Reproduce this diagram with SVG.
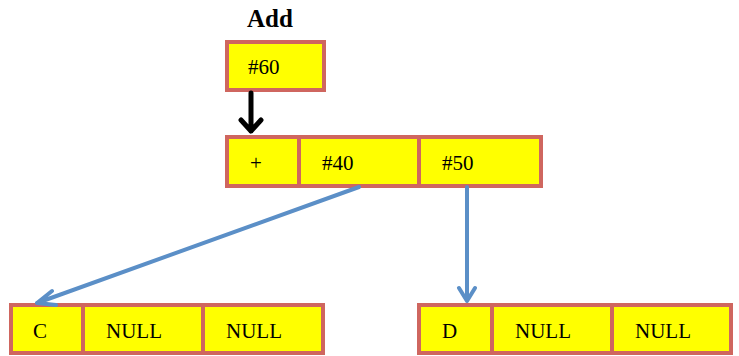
<svg xmlns="http://www.w3.org/2000/svg" width="739" height="356" viewBox="0 0 739 356">
  <style>
    .cell { fill: #ffff00; stroke: #cf665f; stroke-width: 4; }
    .lbl { font-family: "Liberation Serif", "Times New Roman", serif; font-size: 21px; fill: #000; }
    .title { font-family: "Liberation Serif", "Times New Roman", serif; font-size: 25px; font-weight: bold; fill: #000; }
    .link { fill: none; stroke: #5b8fc7; stroke-width: 4; stroke-linecap: round; stroke-linejoin: round; }
    .ptr { fill: none; stroke: #000; stroke-width: 5; stroke-linecap: round; stroke-linejoin: round; }
  </style>
  <rect width="739" height="356" fill="#fff"/>

  <text class="title" x="247" y="27">Add</text>

  <g id="root">
    <rect class="cell" x="227" y="42" width="97" height="48"/>
    <text class="lbl" x="248" y="74">#60</text>
  </g>

  <g id="op">
    <rect class="cell" x="227" y="137" width="72" height="49"/>
    <rect class="cell" x="299" y="137" width="120" height="49"/>
    <rect class="cell" x="419" y="137" width="122" height="49"/>
    <text class="lbl" x="250" y="170">+</text>
    <text class="lbl" x="322" y="170">#40</text>
    <text class="lbl" x="442" y="170">#50</text>
  </g>

  <g id="leafC">
    <rect class="cell" x="11" y="305" width="72" height="48"/>
    <rect class="cell" x="83" y="305" width="120" height="48"/>
    <rect class="cell" x="203" y="305" width="120" height="48"/>
    <text class="lbl" x="33" y="338">C</text>
    <text class="lbl" x="106" y="338">NULL</text>
    <text class="lbl" x="226" y="338">NULL</text>
  </g>

  <g id="leafD">
    <rect class="cell" x="419" y="305" width="73" height="48"/>
    <rect class="cell" x="492" y="305" width="120" height="48"/>
    <rect class="cell" x="612" y="305" width="119" height="48"/>
    <text class="lbl" x="442" y="338">D</text>
    <text class="lbl" x="515" y="338">NULL</text>
    <text class="lbl" x="635" y="338">NULL</text>
  </g>

  <g id="connectors">
    <path class="ptr" d="M251 93 V131 M241 120 L251 131 L261 120"/>
    <path class="link" d="M359 187 L37 303 M52 291 L37 303 L56 305"/>
    <path class="link" d="M467 187 V301 M459 288 L467 301 L475 288"/>
  </g>
</svg>
